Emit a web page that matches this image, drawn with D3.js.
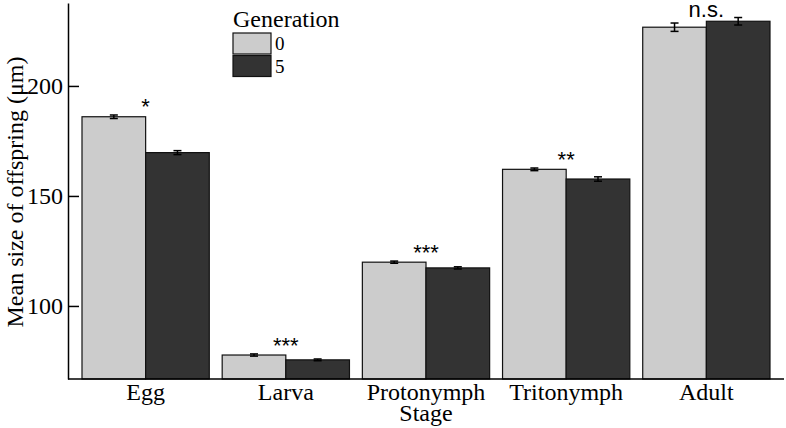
<!DOCTYPE html>
<html>
<head>
<meta charset="utf-8">
<script src="https://cdn.jsdelivr.net/npm/d3@7"></script>
<style>
  body { margin: 0; background: #fff; }
  svg { display: block; }
</style>
</head>
<body>
<div id="chart"></div>
<script>
// data
const stages = ["Egg", "Larva", "Protonymph", "Tritonymph", "Adult"];
const generations = ["0", "5"];
const gen0 = [186.0, 77.7, 119.9, 162.1, 226.7];
const gen5 = [169.7, 75.5, 117.3, 157.7, 229.4];
const err0 = [0.8, 0.5, 0.5, 0.6, 1.9];
const err5 = [0.9, 0.4, 0.5, 1.0, 1.7];
const signif = ["*", "***", "***", "**", "n.s."];
const yTicks = [100, 150, 200];

const W = 786, H = 428;
const colors = { "0": "#cccccc", "5": "#333333" };
const serif = "'Liberation Serif', 'Times New Roman', serif";

const svg = d3.select("#chart").append("svg")
    .attr("width", W)
    .attr("height", H);

const x0 = d3.scaleBand()
    .domain(stages)
    .range([82, 770])
    .paddingInner(0.092)
    .paddingOuter(0);

const x1 = d3.scaleBand()
    .domain(generations)
    .range([0, x0.bandwidth()]);

const y = d3.scaleLinear()
    .domain([66.8, 237.7])
    .range([379, 3]);

const rows = stages.map((s, i) => ({
  stage: s,
  bars: [
    { gen: "0", value: gen0[i], err: err0[i] },
    { gen: "5", value: gen5[i], err: err5[i] }
  ],
  label: signif[i]
}));

// bars
const groups = svg.selectAll(".grp")
    .data(rows)
    .enter()
    .append("g")
    .attr("class", "grp")
    .attr("transform", d => `translate(${x0(d.stage)},0)`);

groups.selectAll("rect")
    .data(d => d.bars)
    .enter()
    .append("rect")
    .attr("x", d => x1(d.gen))
    .attr("y", d => y(d.value))
    .attr("width", x1.bandwidth())
    .attr("height", d => y.range()[0] - y(d.value))
    .attr("fill", d => colors[d.gen])
    .attr("stroke", "#111")
    .attr("stroke-width", 1.2);

// error bars
const eb = groups.selectAll(".err")
    .data(d => d.bars)
    .enter()
    .append("g")
    .attr("class", "err")
    .attr("stroke", "#000")
    .attr("stroke-width", 1.5);
eb.append("line")
    .attr("x1", d => x1(d.gen) + x1.bandwidth() / 2)
    .attr("x2", d => x1(d.gen) + x1.bandwidth() / 2)
    .attr("y1", d => y(d.value - d.err))
    .attr("y2", d => y(d.value + d.err));
eb.selectAll(".cap")
    .data(d => [d.value - d.err, d.value + d.err].map(v => ({ v: v, gen: d.gen })))
    .enter()
    .append("line")
    .attr("x1", d => x1(d.gen) + x1.bandwidth() / 2 - 4)
    .attr("x2", d => x1(d.gen) + x1.bandwidth() / 2 + 4)
    .attr("y1", d => y(d.v))
    .attr("y2", d => y(d.v));

// significance labels
groups.append("text")
    .attr("x", x0.bandwidth() / 2)
    .attr("y", d => y(d3.max(d.bars, b => b.value + b.err)) - 1)
    .attr("text-anchor", "middle")
    .style("font-family", "'Liberation Sans', Arial, sans-serif")
    .style("font-size", "22px")
    .text(d => d.label);

// axes
const xAxisG = svg.append("g")
    .attr("transform", `translate(0,${y.range()[0]})`);
xAxisG.append("line")
    .attr("x1", 68).attr("x2", 784)
    .attr("stroke", "#000").attr("stroke-width", 1.5);
xAxisG.selectAll("text")
    .data(stages)
    .enter()
    .append("text")
    .attr("x", d => x0(d) + x0.bandwidth() / 2)
    .attr("y", 21)
    .attr("text-anchor", "middle")
    .style("font-family", serif)
    .style("font-size", "24px")
    .text(d => d);

svg.append("text")
    .attr("x", 426)
    .attr("y", 421)
    .attr("text-anchor", "middle")
    .style("font-family", serif)
    .style("font-size", "24px")
    .text("Stage");

const yAxis = d3.axisLeft(y)
    .tickValues(yTicks)
    .tickSize(-11)
    .tickPadding(16)
    .tickSizeOuter(0);
const yAxisG = svg.append("g")
    .attr("transform", "translate(68,0)")
    .call(yAxis);
yAxisG.select(".domain").attr("stroke", "#000").attr("stroke-width", 1.5);
yAxisG.selectAll(".tick line").attr("stroke", "#000").attr("stroke-width", 1.5)
    .attr("x1", 0).attr("x2", 11);
yAxisG.selectAll(".tick text")
    .attr("x", -5)
    .style("font-family", serif)
    .style("font-size", "24px")
    .attr("fill", "#000");

svg.append("text")
    .attr("transform", "translate(23,192) rotate(-90)")
    .attr("text-anchor", "middle")
    .style("font-family", serif)
    .style("font-size", "24px")
    .text("Mean size of offspring (μm)");

// legend
const legend = svg.append("g").attr("transform", "translate(233,0)");
legend.append("text")
    .attr("x", 0)
    .attr("y", 27)
    .style("font-family", serif)
    .style("font-size", "24px")
    .text("Generation");
const li = legend.selectAll(".li")
    .data(generations)
    .enter()
    .append("g")
    .attr("class", "li")
    .attr("transform", (d, i) => `translate(0,${33 + i * 22.5})`);
li.append("rect")
    .attr("width", 38)
    .attr("height", 21)
    .attr("fill", d => colors[d])
    .attr("stroke", "#111")
    .attr("stroke-width", 1.2);
li.append("text")
    .attr("x", 42)
    .attr("y", 17)
    .style("font-family", serif)
    .style("font-size", "19px")
    .text(d => d);
</script>
</body>
</html>
